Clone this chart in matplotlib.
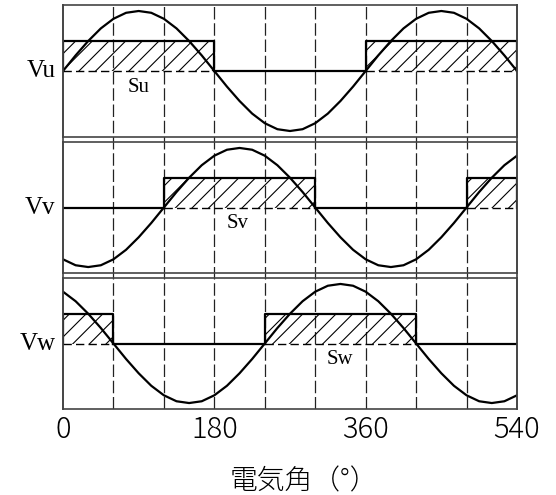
import matplotlib.pyplot as plt

plt.rcParams['hatch.linewidth'] = 0.8

# sample angles (deg) and sine values, every 15 deg
angle = list(range(0, 541, 15))
vu = [0, .26, .50, .71, .87, .97, 1.00, .97, .87, .71, .50, .26, 0, -.26, -.50, -.71, -.87, -.97, -1.00,
      -.97, -.87, -.71, -.50, -.26, 0, .26, .50, .71, .87, .97, 1.00, .97, .87, .71, .50, .26, 0]
vv = [-.87, -.97, -1.00, -.97, -.87, -.71, -.50, -.26, 0, .26, .50, .71, .87, .97, 1.00, .97, .87, .71, .50,
      .26, 0, -.26, -.50, -.71, -.87, -.97, -1.00, -.97, -.87, -.71, -.50, -.26, 0, .26, .50, .71, .87]
vw = [.87, .71, .50, .26, 0, -.26, -.50, -.71, -.87, -.97, -1.00, -.97, -.87, -.71, -.50, -.26, 0, .26, .50,
      .71, .87, .97, 1.00, .97, .87, .71, .50, .26, 0, -.26, -.50, -.71, -.87, -.97, -1.00, -.97, -.87]

# switching signals: intervals where the signal is on
su_on = [(0, 180), (360, 540)]
sv_on = [(120, 300), (480, 540)]
sw_on = [(0, 60), (240, 420)]
s_level = 0.5

wave_names = ['Vu', 'Vv', 'Vw']
sig_names = ['Su', 'Sv', 'Sw']
sig_label_x = [90, 208, 329]
guides = [60, 120, 180, 240, 300, 360, 420, 480]
xticks = [0, 180, 360, 540]
xlabel = '電気角（°）'

cjk = ['Noto Sans CJK JP', 'DejaVu Sans']

fig = plt.figure(figsize=(5.56, 4.95), dpi=100)
L, W = 63 / 556, 454 / 556
H = 495

# background axes: dashed guides running through all three panels
bg = fig.add_axes([L, 1 - 409 / H, W, 404 / H])
bg.set_xlim(0, 540)
bg.set_ylim(0, 1)
for g in guides:
    bg.axvline(g, color='#222222', lw=0.9, dashes=(10, 3))
for s in ['top', 'bottom']:
    bg.spines[s].set_visible(False)
for s in ['left', 'right']:
    bg.spines[s].set_color('#444444')
    bg.spines[s].set_linewidth(1.2)
bg.set_xticks([])
bg.set_yticks([])

panel_px = [(5, 137), (142, 273), (278, 409)]
waves = [vu, vv, vw]
ons = [su_on, sv_on, sw_on]

for i in range(3):
    top, bot = panel_px[i]
    ax = fig.add_axes([L, 1 - bot / H, W, (bot - top) / H])
    ax.patch.set_alpha(0)
    ax.set_xlim(0, 540)
    ax.set_ylim(-1.1, 1.1)
    for s in ax.spines.values():
        s.set_color('#444444')
        s.set_linewidth(1.2)

    # sine
    ax.plot(angle, waves[i], color='k', lw=1.6)

    # switching signal
    prev = 0
    for a, b in ons[i]:
        if a > prev:
            ax.plot([prev, a], [0, 0], color='k', lw=1.6)
        ax.fill_between([a, b], 0, s_level, facecolor='none', edgecolor='k', hatch='//', lw=0)
        ax.plot([a, a, b, b], [0, s_level, s_level, 0], color='k', lw=1.6)
        ax.plot([a, b], [0, 0], color='k', lw=1.0, dashes=(6, 3))
        prev = b
    if prev < 540:
        ax.plot([prev, 540], [0, 0], color='k', lw=1.6)

    ax.text(-0.017, 0, wave_names[i], transform=ax.get_yaxis_transform(), ha='right', va='center',
            fontsize=18, family='Liberation Serif')
    ax.text(sig_label_x[i], -0.27, sig_names[i], ha='center', va='center', fontsize=15,
            family='Liberation Serif')

    ax.set_yticks([])
    if i == 2:
        ax.set_xticks(xticks)
        ax.set_xticklabels([str(t) for t in xticks], fontsize=21, family=cjk, fontweight='light')
        ax.tick_params(axis='x', length=0, pad=4)
    else:
        ax.set_xticks([])

fig.text(304 / 556, 1 - 481 / H, xlabel, ha='center', va='center', fontsize=20,
         family=cjk, fontweight='light')

fig.savefig('out.png', dpi=100)
